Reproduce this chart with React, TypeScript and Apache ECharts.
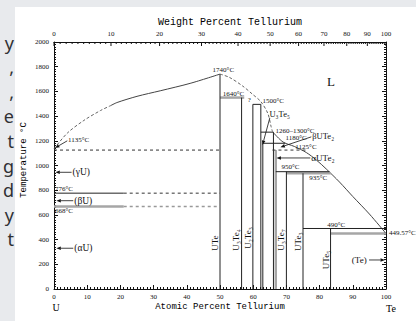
import React, { useEffect, useRef } from "react";
import * as echarts from "echarts";

const FONT_SERIF = '"Liberation Serif", "DejaVu Serif", serif';
const FONT_MONO = '"Liberation Mono", "DejaVu Sans Mono", monospace';

// Top axis: weight percent tellurium tick labels
const weightMajorTicks = [0, 10, 20, 30, 40, 50, 60, 70, 80, 90, 100];
const weightMinorTicks: number[] = [];
for (let w = 1; w < 100; w++) if (w % 10 !== 0) weightMinorTicks.push(w);
const MASS_U = 238.029;
const MASS_TE = 127.6;
const wtToAt = (w: number) => {
  const te = w / MASS_TE;
  const u = (100 - w) / MASS_U;
  return (te / (te + u)) * 100;
};

// Liquidus curves [at% Te, °C]
const leftLiquidusDashed = [[0, 1135], [4, 1262], [9, 1365], [14, 1445], [17, 1484]];
const leftLiquidusSolid = [[17, 1484], [19, 1510], [25, 1560], [32, 1605], [41, 1665], [50, 1740]];
const rightLiquidusDashed = [[50, 1740], [52.8, 1714], [56.8, 1644], [59.8, 1577], [62.3, 1517], [64.4, 1422], [65.4, 1314], [65.8, 1275]];
const teLiquidus = [[66.1, 1265], [69, 1190], [72.4, 1154], [76, 1105], [79, 1045], [82, 972], [86, 866], [90, 749], [95, 607], [100, 449.57]];

// Segments [x1, T1, x2, T2]
const blackSegments = [
  [50, 0, 50, 1740],
  [56.5, 0, 56.5, 1550],
  [59.9, 0, 59.9, 1495],
  [59.9, 1495, 62.3, 1495],
  [62.3, 0, 62.3, 1495],
  [62.9, 0, 62.9, 1180],
  [62.3, 1270, 66.1, 1270],
  [66.1, 0, 66.1, 1270],
  [62.9, 1180, 69.7, 1180],
  [66.8, 950, 83, 950],
  [70, 0, 70, 950],
  [75, 0, 75, 937],
  [83.3, 0, 83.3, 490],
  [75, 490, 100, 490],
  [0, 776, 21, 776],
];
const grayThickSegments = [
  [50, 1550, 57.3, 1550],
  [66.8, 0, 66.8, 1125],
  [70, 937, 83.4, 937],
  [83.3, 449.57, 100, 449.57],
  [0, 668, 21, 668],
];
const blackDashedSegments = [
  [0, 1125, 50, 1125],
  [21, 776, 50, 776],
  [65.8, 1125, 76, 1125],
];
const grayDashedSegments = [[21, 668, 50, 668]];

// Arrows [fromX, fromT, toX, toT]
const arrows = [
  [5.3, 945, 0.4, 945],
  [5.8, 715, 0.7, 715],
  [5.8, 330, 0.7, 330],
  [4.0, 1200, 0.3, 1142],
  [65.0, 1385, 62.8, 1166],
  [77.5, 1232, 68.2, 1148],
  [77.2, 1061, 67.0, 1061],
  [94.9, 235, 99.7, 235],
];

// Annotations
const annotationTexts = [
  "1135°C", "776°C", "668°C", "(γU)", "(βU)", "(αU)",
  "1740°C", "1640°C", "?", "1500°C", "U₃Te₅", "1260–1300°C", "1180°C", "βUTe₂",
  "1125°C", "αUTe₂", "950°C", "935°C", "490°C", "449.57°C", "(Te)", "L",
  "UTe", "U₃Te₄", "U₂Te₃", "U₃Te₇", "UTe₃", "UTe₅",
];
const annotationAnchors = [
  [4.2, 1206], [0.3, 812], [0.3, 630], [5.6, 945], [6.1, 715], [6.1, 330],
  [51, 1775], [50.8, 1581], [58.8, 1530], [62.8, 1524], [64.9, 1417], [66.7, 1281], [69.7, 1225], [77.8, 1240],
  [72.7, 1150], [77.5, 1061], [71.2, 990], [76.9, 896], [82.3, 520], [100.9, 455], [89.7, 235], [83.4, 1679],
  [48.6, 372], [54.7, 397], [58.3, 413], [68.4, 397], [73.4, 383], [81.9, 235],
];
const annotationStyle = [
  ["left", 7, 0], ["left", 7, 0], ["left", 7, 0], ["left", 9.5, 0], ["left", 9.5, 0], ["left", 9.5, 0],
  ["center", 7, 0], ["left", 7, 0], ["center", 7, 0], ["left", 7, 0], ["left", 8.5, 0], ["left", 7, 0], ["left", 7, 0], ["left", 8.5, 0],
  ["left", 7, 0], ["left", 9, 0], ["center", 7, 0], ["left", 7, 0], ["left", 7, 0], ["left", 7, 0], ["left", 9, 0], ["center", 13, 0],
  ["center", 9, 1], ["center", 9, 1], ["center", 9, 1], ["center", 9, 1], ["center", 9, 1], ["center", 9, 1],
];

const sideLetters = ["y", ",", ",", "e", "t", "g", "d", "y", "t"];

function segmentSeries(data: number[][], stroke: string, width: number, dash?: number[]) {
  return {
    type: "custom",
    coordinateSystem: "cartesian2d",
    xAxisIndex: 0,
    yAxisIndex: 0,
    data,
    encode: { x: [0, 2], y: [1, 3] },
    clip: false,
    silent: true,
    z: 3,
    renderItem: (_p: any, api: any) => {
      const a = api.coord([api.value(0), api.value(1)]);
      const b = api.coord([api.value(2), api.value(3)]);
      return {
        type: "line",
        shape: { x1: a[0], y1: a[1], x2: b[0], y2: b[1] },
        style: { stroke, lineWidth: width, lineDash: dash || null },
      };
    },
  };
}

export default function App() {
  const ref = useRef<HTMLDivElement>(null);
  useEffect(() => {
    if (!ref.current) return;
    const chart = echarts.init(ref.current, undefined, { renderer: "svg" });
    const axisColor = "#111";
    const plainNum = (v: number) => String(v);
    const graphic: any[] = [
      { type: "rect", shape: { x: 0, y: 0, width: 416, height: 7 }, style: { fill: "#e8eaed" }, z: 0 },
      { type: "rect", shape: { x: 0, y: 0, width: 15, height: 321 }, style: { fill: "#e8eaed" }, z: 0 },
      {
        type: "text", x: 230, y: 22, z: 10,
        style: { text: "Weight Percent Tellurium", fontSize: 10, fontFamily: FONT_MONO, fill: "#000", align: "center", verticalAlign: "middle", textAlign: "center", textVerticalAlign: "middle" },
      },
      {
        type: "text", x: 220, y: 307, z: 10,
        style: { text: "Atomic Percent Tellurium", fontSize: 9, fontFamily: FONT_MONO, fill: "#000", align: "center", verticalAlign: "middle", textAlign: "center", textVerticalAlign: "middle" },
      },
      {
        type: "text", x: 24, y: 160, rotation: Math.PI / 2, z: 10,
        style: { text: "Temperature °C", fontSize: 9, fontFamily: FONT_MONO, fill: "#000", align: "center", verticalAlign: "middle", textAlign: "center", textVerticalAlign: "middle" },
      },
      {
        type: "text", x: 56, y: 307, z: 10,
        style: { text: "U", fontSize: 10, fontFamily: FONT_SERIF, fill: "#000", align: "center", verticalAlign: "middle", textAlign: "center", textVerticalAlign: "middle" },
      },
      {
        type: "text", x: 391, y: 308, z: 10,
        style: { text: "Te", fontSize: 10, fontFamily: FONT_SERIF, fill: "#000", align: "center", verticalAlign: "middle", textAlign: "center", textVerticalAlign: "middle" },
      },
    ];
    sideLetters.forEach((ch, i) => {
      graphic.push({
        type: "text", x: 14, y: 42.5 + i * 24.6, z: 10,
        style: { text: ch, fontSize: 18, fontFamily: '"Noto Sans", sans-serif', fill: "#303134", align: "right", verticalAlign: "middle", textAlign: "right", textVerticalAlign: "middle" },
      });
    });

    const weightTicks = [...weightMajorTicks, ...weightMinorTicks];

    const option: any = {
      animation: false,
      backgroundColor: "#ffffff",
      grid: { left: 54, right: 30, top: 42, bottom: 32 },
      xAxis: [
        {
          type: "value", min: 0, max: 100, interval: 10, position: "bottom",
          axisLine: { onZero: false, lineStyle: { color: axisColor, width: 1 } },
          axisTick: { inside: true, length: 4, lineStyle: { color: axisColor } },
          minorTick: { show: true, splitNumber: 10, length: 2, lineStyle: { color: axisColor } },
          axisLabel: { fontSize: 7, fontFamily: FONT_SERIF, color: "#111", margin: 4, formatter: plainNum },
          splitLine: { show: false },
        },
        {
          type: "value", min: 0, max: 100, position: "top",
          axisLine: { onZero: false, lineStyle: { color: axisColor, width: 1 } },
          axisTick: { show: false }, axisLabel: { show: false }, splitLine: { show: false },
        },
      ],
      yAxis: [
        {
          type: "value", min: 0, max: 2000, interval: 200, position: "left",
          axisLine: { onZero: false, lineStyle: { color: axisColor, width: 1 } },
          axisTick: { inside: true, length: 4, lineStyle: { color: axisColor } },
          minorTick: { show: true, splitNumber: 10, length: 2, lineStyle: { color: axisColor } },
          axisLabel: { fontSize: 7, fontFamily: FONT_SERIF, color: "#111", margin: 5, formatter: plainNum },
          splitLine: { show: false },
        },
        {
          type: "value", min: 0, max: 2000, interval: 200, position: "right",
          axisLine: { onZero: false, lineStyle: { color: axisColor, width: 1 } },
          axisTick: { inside: true, length: 4, lineStyle: { color: axisColor } },
          minorTick: { show: true, splitNumber: 10, length: 2, lineStyle: { color: axisColor } },
          axisLabel: { show: false },
          splitLine: { show: false },
        },
      ],
      graphic,
      series: [
        {
          type: "line", data: leftLiquidusDashed, showSymbol: false, symbol: "none", smooth: 0.3, silent: true,
          lineStyle: { color: "#666", width: 1, type: [3, 2] }, z: 2,
        },
        {
          type: "line", data: leftLiquidusSolid, showSymbol: false, symbol: "none", smooth: 0.3, silent: true,
          lineStyle: { color: "#444", width: 1 }, z: 2,
        },
        {
          type: "line", data: rightLiquidusDashed, showSymbol: false, symbol: "none", smooth: 0.3, silent: true,
          lineStyle: { color: "#666", width: 1, type: [3, 2] }, z: 2,
        },
        {
          type: "line", data: teLiquidus, showSymbol: false, symbol: "none", smooth: 0.3, silent: true,
          lineStyle: { color: "#444", width: 1 }, z: 2,
        },
        segmentSeries(grayThickSegments, "#a6a6a6", 2.5),
        segmentSeries(blackSegments, "#222", 1),
        segmentSeries(blackDashedSegments, "#333", 1, [3, 3]),
        segmentSeries(grayDashedSegments, "#999", 1.5, [3, 3]),
        {
          type: "custom", coordinateSystem: "cartesian2d", data: arrows, encode: { x: [0, 2], y: [1, 3] },
          clip: false, silent: true, z: 5,
          renderItem: (_p: any, api: any) => {
            const a = api.coord([api.value(0), api.value(1)]);
            const b = api.coord([api.value(2), api.value(3)]);
            const dx = b[0] - a[0];
            const dy = b[1] - a[1];
            const L = Math.hypot(dx, dy) || 1;
            const ux = dx / L;
            const uy = dy / L;
            const head = 4.5;
            const hw = 1.8;
            const bx = b[0] - ux * head;
            const by = b[1] - uy * head;
            return {
              type: "group",
              children: [
                { type: "line", shape: { x1: a[0], y1: a[1], x2: bx, y2: by }, style: { stroke: "#111", lineWidth: 0.8 } },
                {
                  type: "polygon",
                  shape: { points: [[b[0], b[1]], [bx - uy * hw, by + ux * hw], [bx + uy * hw, by - ux * hw]] },
                  style: { fill: "#111" },
                },
              ],
            };
          },
        },
        {
          type: "custom", coordinateSystem: "cartesian2d", data: annotationAnchors, clip: false, silent: true, z: 6,
          renderItem: (params: any, api: any) => {
            const i = params.dataIndex;
            const p = api.coord([api.value(0), api.value(1)]);
            const st = annotationStyle[i];
            const rotate = st[2] === 1;
            return {
              type: "text", x: p[0], y: p[1], rotation: rotate ? Math.PI / 2 : 0,
              style: {
                text: annotationTexts[i], fill: "#111", fontSize: st[1], fontFamily: FONT_SERIF,
                align: st[0], verticalAlign: "middle", textAlign: st[0], textVerticalAlign: "middle",
              },
            };
          },
        },
        {
          type: "custom", coordinateSystem: "cartesian2d", data: weightTicks.map((w) => [w, 2000]),
          clip: false, silent: true, z: 6,
          renderItem: (_p: any, api: any) => {
            const w = api.value(0);
            const p = api.coord([wtToAt(w), 2000]);
            const major = w % 10 === 0;
            const children: any[] = [
              { type: "line", shape: { x1: p[0], y1: p[1], x2: p[0], y2: p[1] + (major ? 4 : 2) }, style: { stroke: axisColor, lineWidth: 1 } },
            ];
            if (major) {
              children.push({
                type: "text", x: p[0], y: p[1] - 8.5,
                style: { text: String(w), fill: "#111", fontSize: 7, fontFamily: FONT_SERIF, align: "center", verticalAlign: "middle", textAlign: "center", textVerticalAlign: "middle" },
              });
            }
            return { type: "group", children };
          },
        },
      ],
    };
    chart.setOption(option);
    return () => chart.dispose();
  }, []);
  return <div ref={ref} style={{ position: "fixed", left: 0, top: 0, width: 416, height: 321 }} />;
}
